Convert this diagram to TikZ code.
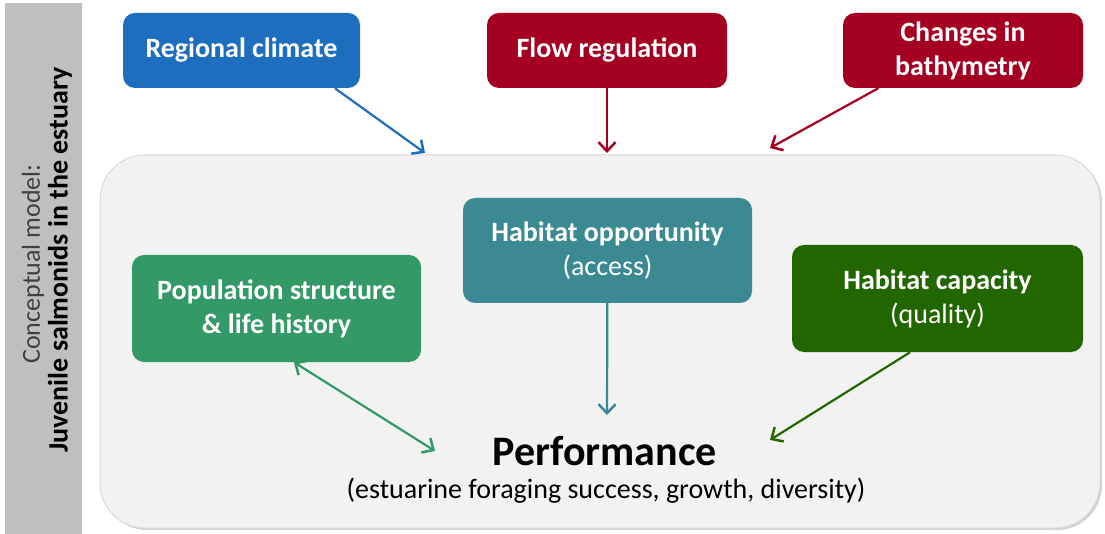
\documentclass[tikz,border=0pt]{standalone}
\usepackage{fontspec}
\setmainfont{Carlito}
\usetikzlibrary{arrows.meta,shadows}
\definecolor{climblue}{HTML}{1E6EC0}
\definecolor{flowred}{HTML}{A50021}
\definecolor{opteal}{HTML}{3B8A93}
\definecolor{popgreen}{HTML}{339966}
\definecolor{capgreen}{HTML}{226600}
\definecolor{bargray}{HTML}{BFBFBF}
\definecolor{panelgray}{HTML}{F2F2F2}
\begin{document}
\begin{tikzpicture}[x=1pt,y=-1pt,
    box/.style={rounded corners=12pt, text=white, align=center, inner sep=0pt,
      font=\bfseries\fontsize{28}{34}\selectfont},
    link/.style={line width=2.2pt, -{Straight Barb[length=9pt,width=17pt,line width=2.5pt]}}]
  \useasboundingbox (0,0) rectangle (1105,534);
  % side bar
  \fill[bargray] (5,3) rectangle (82,534);
  \node[rotate=90, text=black!75, font=\fontsize{26}{28}\selectfont] (sub) at (33,264) {Conceptual model:};
  \node[rotate=90, font=\bfseries\fontsize{28}{30}\selectfont] (title) at (60,260) {Juvenile salmonids in the estuary};
  % panel
  \node[fill=panelgray, draw=black!15, line width=1pt, rounded corners=45pt,
    minimum width=1000pt, minimum height=373pt,
    drop shadow={shadow xshift=2pt, shadow yshift=-2pt, opacity=0.35}] (panel) at (600,341.5) {};
  % drivers
  \node[box, fill=climblue, minimum width=237pt, minimum height=75pt] (clim) at (241.5,50.5) {Regional climate};
  \node[box, fill=flowred, minimum width=240pt, minimum height=75pt] (flow) at (607,50.5) {Flow regulation};
  \node[box, fill=flowred, minimum width=240pt, minimum height=75pt] (bathy) at (963,50.5) {Changes in\\bathymetry};
  % inner boxes
  \node[box, fill=opteal, minimum width=289pt, minimum height=105pt] (opp) at (607.5,250.5) {Habitat opportunity\\\mdseries (access)};
  \node[box, fill=popgreen, minimum width=289pt, minimum height=107pt] (pop) at (276.5,308.5) {Population structure\\\& life history};
  \node[box, fill=capgreen, minimum width=291pt, minimum height=107pt] (cap) at (937.5,298.5) {Habitat capacity\\\mdseries (quality)};
  % performance
  \node[anchor=base, inner sep=0pt, font=\bfseries\fontsize{42}{46}\selectfont] (perf) at (605,465) {Performance};
  \node[anchor=base, inner sep=0pt, font=\fontsize{28}{32}\selectfont] (perfsub) at (606,498) {(estuarine foraging success, growth, diversity)};
  % arrow ends
  \coordinate (climIn) at (425,153);
  \coordinate (flowIn) at (607,153);
  \coordinate (bathyIn) at (770,148);
  \coordinate (perfTop) at (607,415);
  \coordinate (perfL) at (435,451);
  \coordinate (perfR) at (770,440);
  \draw[link, climblue] (clim.-22) -- (climIn);
  \draw[link, flowred] (flow) -- (flowIn);
  \draw[link, flowred] (bathy.-156) -- (bathyIn);
  \draw[link, opteal] (opp) -- (perfTop);
  \draw[link, popgreen, {Straight Barb[length=9pt,width=17pt,line width=2.5pt]}-{Straight Barb[length=9pt,width=17pt,line width=2.5pt]}] (pop.-72) -- (perfL);
  \draw[link, capgreen] (cap.-117) -- (perfR);
\end{tikzpicture}
\end{document}
